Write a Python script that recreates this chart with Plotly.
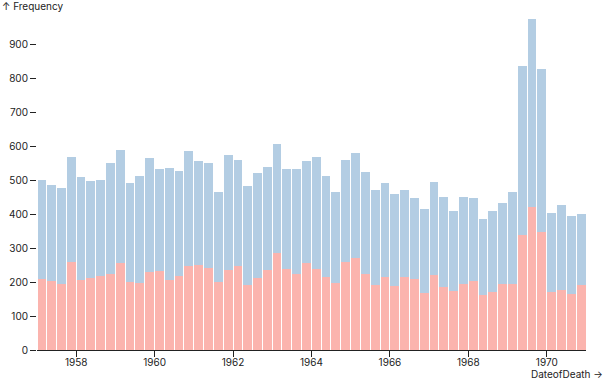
import pandas as pd
import plotly.graph_objects as go

# Quarterly bins of DateofDeath
quarters = pd.date_range("1957-01-01", "1970-10-01", freq="QS")

pink_counts = [208, 202, 193, 258, 206, 213, 217, 223, 256, 200,
               198, 229, 232, 205, 219, 248, 250, 240, 200, 235,
               246, 190, 211, 236, 286, 237, 223, 256, 239, 216,
               197, 259, 271, 223, 191, 216, 189, 214, 209, 169,
               221, 184, 175, 194, 203, 161, 172, 195, 194, 337,
               421, 346, 170, 177, 165, 191]
blue_counts = [292, 283, 284, 309, 302, 283, 283, 327, 333, 290,
               314, 335, 302, 331, 308, 338, 305, 309, 266, 340,
               312, 294, 311, 302, 321, 297, 310, 299, 328, 296,
               269, 300, 310, 302, 279, 274, 270, 256, 237, 245,
               272, 266, 234, 256, 244, 224, 237, 239, 270, 500,
               553, 481, 232, 251, 229, 209]

y_ticks = [0, 100, 200, 300, 400, 500, 600, 700, 800, 900]
x_tick_years = ["1958", "1960", "1962", "1964", "1966", "1968", "1970"]

starts = list(quarters)
ends = starts[1:] + [pd.Timestamp("1971-01-01")]
day_ms = 86400000.0
gap_days = 9.3  # ~1px gap
widths = [((e - s).total_seconds() * 1000.0) - gap_days * day_ms for s, e in zip(starts, ends)]
offset = gap_days * day_ms / 2

fig = go.Figure()
fig.add_trace(go.Bar(x=starts, y=pink_counts, width=widths, offset=offset,
                     marker=dict(color="#fbb4ae", line=dict(width=0)), name="A"))
fig.add_trace(go.Bar(x=starts, y=blue_counts, width=widths, offset=offset,
                     marker=dict(color="#b3cde3", line=dict(width=0)), name="B"))

FONT = "Inter, 'Noto Sans', sans-serif"
fig.update_layout(
    barmode="stack",
    width=606, height=379,
    margin=dict(l=37, r=20, t=19, b=29, pad=0, autoexpand=False),
    paper_bgcolor="white", plot_bgcolor="white",
    showlegend=False,
    font=dict(family=FONT, size=10, color="#222"),
    xaxis=dict(
        type="date",
        automargin=False,
        range=["1957-01-01", "1971-01-01"],
        tickvals=[f"{y}-01-01" for y in x_tick_years],
        ticktext=x_tick_years,
        ticks="outside", ticklen=6, tickcolor="#222", tickwidth=1,
        ticklabelstandoff=-3,
        showline=True, linecolor="#222", linewidth=1.3,
        showgrid=False, zeroline=False,
        tickfont=dict(size=10, color="#222"),
    ),
    yaxis=dict(
        automargin=False,
        range=[0, 974],
        tickvals=y_ticks,
        ticks="outside", ticklen=6, tickcolor="#222", tickwidth=1,
        showline=False, showgrid=False, zeroline=False,
        tickfont=dict(size=10, color="#222"),
    ),
    annotations=[
        dict(text="↑ Frequency", xref="paper", yref="paper",
             x=-37/549, y=(350-6)/331, xanchor="left", yanchor="middle",
             showarrow=False, font=dict(size=10, color="#222")),
        dict(text="DateofDeath →", xref="paper", yref="paper",
             x=(605-37)/549, y=(350-374)/331, xanchor="right", yanchor="middle",
             showarrow=False, font=dict(size=10, color="#222")),
    ],
)

fig.write_html("out.html", config={"displayModeBar": False},
               post_script="document.body.style.margin='0px';document.body.style.overflow='hidden';")
